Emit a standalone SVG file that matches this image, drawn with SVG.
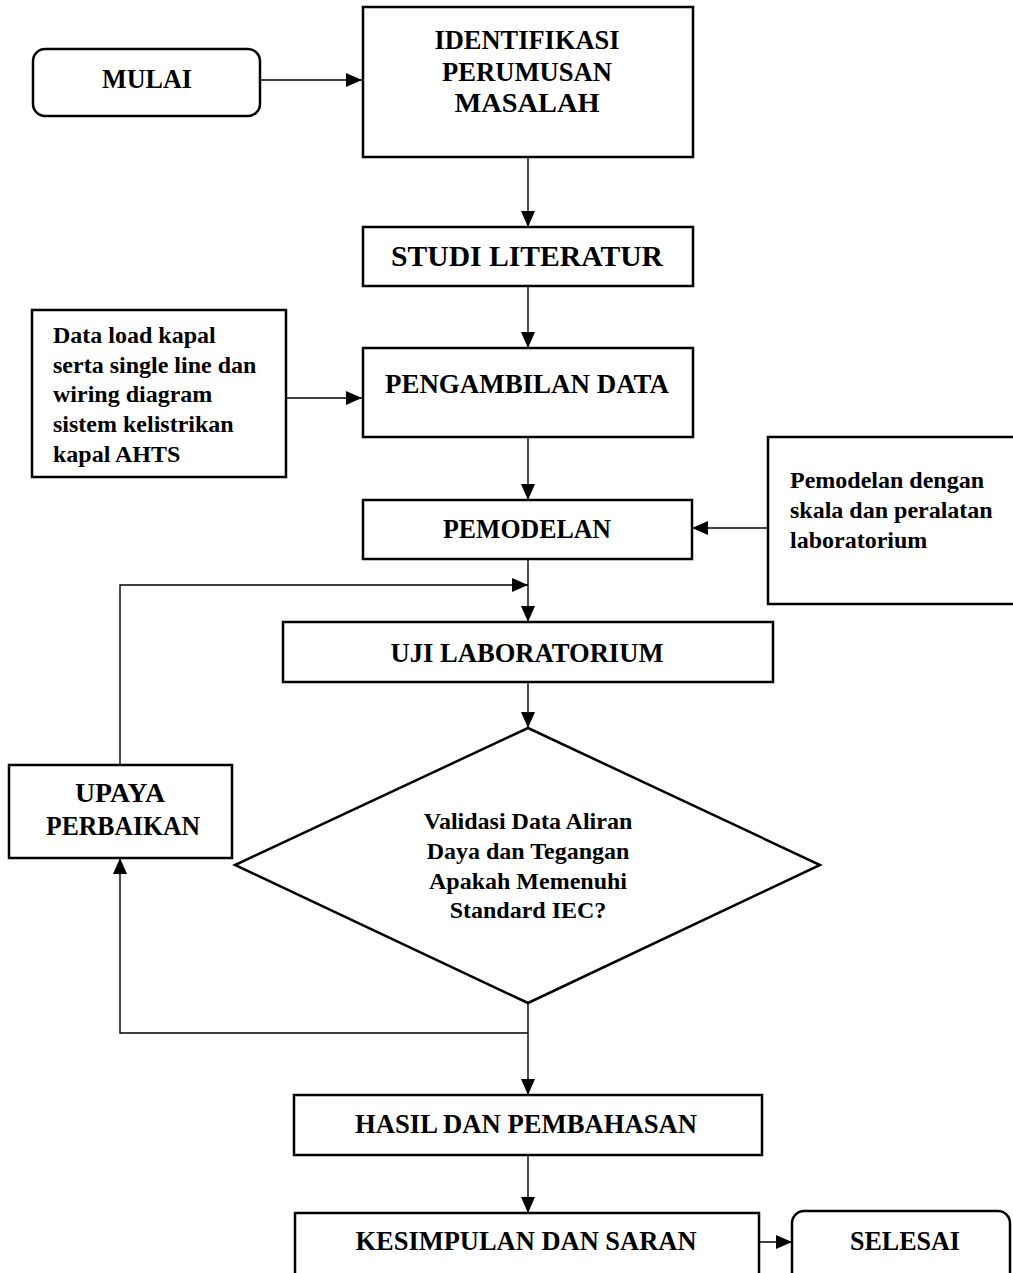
<svg xmlns="http://www.w3.org/2000/svg" width="1013" height="1273" viewBox="0 0 1013 1273">
  <style>
    .box { fill: #ffffff; stroke: #000000; stroke-width: 2.5; }
    .wire { fill: none; stroke: #000000; stroke-width: 1.4; }
    .lbl { font-family: "Liberation Serif", "Times New Roman", serif; font-weight: bold; font-size: 28px; fill: #000000; text-anchor: middle; }
    .big { font-size: 30px; }
    .note { font-family: "Liberation Serif", "Times New Roman", serif; font-weight: bold; font-size: 24px; fill: #000000; }
    .mid { text-anchor: middle; }
  </style>
  <defs>
    <marker id="arrow" markerUnits="userSpaceOnUse" markerWidth="17" markerHeight="16" refX="16" refY="8" orient="auto">
      <path d="M0,1 L16,8 L0,15 z" fill="#000000"/>
    </marker>
  </defs>

  <rect width="1013" height="1273" fill="#ffffff"/>

  <!-- connectors -->
  <g id="connectors">
    <path class="wire" d="M260,80 H362" marker-end="url(#arrow)"/>
    <path class="wire" d="M528,157 V227" marker-end="url(#arrow)"/>
    <path class="wire" d="M528,286 V348" marker-end="url(#arrow)"/>
    <path class="wire" d="M286,398 H362" marker-end="url(#arrow)"/>
    <path class="wire" d="M528,437 V500" marker-end="url(#arrow)"/>
    <path class="wire" d="M768,528 H692" marker-end="url(#arrow)"/>
    <path class="wire" d="M528,559 V622" marker-end="url(#arrow)"/>
    <path class="wire" d="M120,765 V585 H528" marker-end="url(#arrow)"/>
    <path class="wire" d="M528,682 V728" marker-end="url(#arrow)"/>
    <path class="wire" d="M528,1003 V1095" marker-end="url(#arrow)"/>
    <path class="wire" d="M528,1033 H120 V858" marker-end="url(#arrow)"/>
    <path class="wire" d="M528,1155 V1213" marker-end="url(#arrow)"/>
    <path class="wire" d="M759,1242 H792" marker-end="url(#arrow)"/>
  </g>

  <g id="mulai">
    <rect class="box" x="33" y="49" width="227" height="67" rx="12"/>
    <text class="lbl" x="147" y="88" textLength="90" lengthAdjust="spacingAndGlyphs">MULAI</text>
  </g>

  <g id="identifikasi">
    <rect class="box" x="363" y="7" width="330" height="150"/>
    <text class="lbl" x="527" y="49" textLength="185" lengthAdjust="spacingAndGlyphs">IDENTIFIKASI</text>
    <text class="lbl" x="527" y="81" textLength="170" lengthAdjust="spacingAndGlyphs">PERUMUSAN</text>
    <text class="lbl" x="527" y="112" textLength="145" lengthAdjust="spacingAndGlyphs">MASALAH</text>
  </g>

  <g id="studi-literatur">
    <rect class="box" x="363" y="227" width="330" height="59"/>
    <text class="lbl big" x="527" y="266" textLength="272" lengthAdjust="spacingAndGlyphs">STUDI LITERATUR</text>
  </g>

  <g id="data-load">
    <rect class="box" x="32" y="310" width="254" height="167"/>
    <text class="note" x="53" y="343">Data load kapal</text>
    <text class="note" x="53" y="373">serta single line dan</text>
    <text class="note" x="53" y="402">wiring diagram</text>
    <text class="note" x="53" y="432">sistem kelistrikan</text>
    <text class="note" x="53" y="462">kapal AHTS</text>
  </g>

  <g id="pengambilan-data">
    <rect class="box" x="363" y="348" width="330" height="89"/>
    <text class="lbl" x="527" y="393" textLength="284" lengthAdjust="spacingAndGlyphs">PENGAMBILAN DATA</text>
  </g>

  <g id="pemodelan">
    <rect class="box" x="363" y="500" width="329" height="59"/>
    <text class="lbl" x="527" y="538" textLength="168" lengthAdjust="spacingAndGlyphs">PEMODELAN</text>
  </g>

  <g id="pemodelan-skala">
    <rect class="box" x="768" y="437" width="250" height="167"/>
    <text class="note" x="790" y="488">Pemodelan dengan</text>
    <text class="note" x="790" y="518">skala dan peralatan</text>
    <text class="note" x="790" y="548">laboratorium</text>
  </g>

  <g id="uji-laboratorium">
    <rect class="box" x="283" y="622" width="490" height="60"/>
    <text class="lbl" x="527" y="662" textLength="273" lengthAdjust="spacingAndGlyphs">UJI LABORATORIUM</text>
  </g>

  <g id="upaya-perbaikan">
    <rect class="box" x="9" y="765" width="223" height="93"/>
    <text class="lbl" x="120" y="802" textLength="90" lengthAdjust="spacingAndGlyphs">UPAYA</text>
    <text class="lbl" x="123" y="835" textLength="154" lengthAdjust="spacingAndGlyphs">PERBAIKAN</text>
  </g>

  <g id="validasi">
    <polygon class="box" points="528,728 820,865 528,1003 235,865"/>
    <text class="note mid" x="528" y="829">Validasi Data Aliran</text>
    <text class="note mid" x="528" y="859">Daya dan Tegangan</text>
    <text class="note mid" x="528" y="889">Apakah Memenuhi</text>
    <text class="note mid" x="528" y="918">Standard IEC?</text>
  </g>

  <g id="hasil">
    <rect class="box" x="294" y="1095" width="468" height="60"/>
    <text class="lbl" x="526" y="1133" textLength="342" lengthAdjust="spacingAndGlyphs">HASIL DAN PEMBAHASAN</text>
  </g>

  <g id="kesimpulan">
    <rect class="box" x="295" y="1213" width="464" height="80"/>
    <text class="lbl" x="526" y="1250" textLength="341" lengthAdjust="spacingAndGlyphs">KESIMPULAN DAN SARAN</text>
  </g>

  <g id="selesai">
    <rect class="box" x="792" y="1211" width="218" height="90" rx="12"/>
    <text class="lbl" x="905" y="1250" textLength="110" lengthAdjust="spacingAndGlyphs">SELESAI</text>
  </g>
</svg>
